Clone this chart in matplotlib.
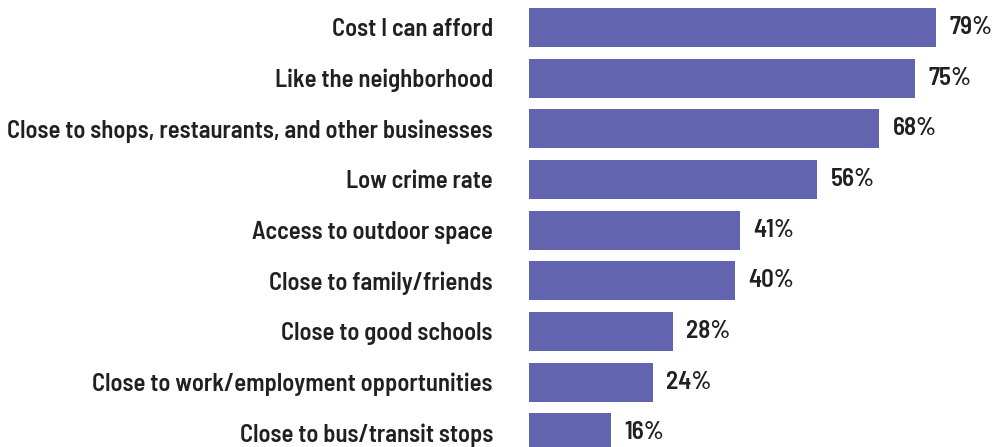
import matplotlib.pyplot as plt

reasons = [
    "Cost I can afford",
    "Like the neighborhood",
    "Close to shops, restaurants, and other businesses",
    "Low crime rate",
    "Access to outdoor space",
    "Close to family/friends",
    "Close to good schools",
    "Close to work/employment opportunities",
    "Close to bus/transit stops",
]
shares = [79, 75, 68, 56, 41, 40, 28, 24, 16]

bar_color = "#6264af"
text_color = "#231f20"
fam = ["Barlow Semi Condensed", "DejaVu Sans"]

fig = plt.figure(figsize=(9.93, 4.47), dpi=100)
ax = fig.add_axes([529 / 993, 0, 1 - 529 / 993, 1])

pos = list(range(len(reasons)))
ax.barh(pos, shares, height=0.77, color=bar_color)
ax.set_xlim(0, (993 - 529) / 5.15)
ax.set_ylim(8.28, -0.54)

for y, v in zip(pos, shares):
    ax.annotate(f"{v}%", (v, y), xytext=(9.5, 0), textcoords="offset points",
                va="center", ha="left", fontsize=18, fontweight=600,
                family=fam, color=text_color)

ax.set_yticks(pos)
ax.set_yticklabels(reasons, fontsize=17.7, fontweight=600, family=fam,
                   color=text_color)
ax.tick_params(axis="y", length=0, pad=26)
ax.set_xticks([])
for s in ax.spines.values():
    s.set_visible(False)

fig.savefig("out.png", dpi=100)
